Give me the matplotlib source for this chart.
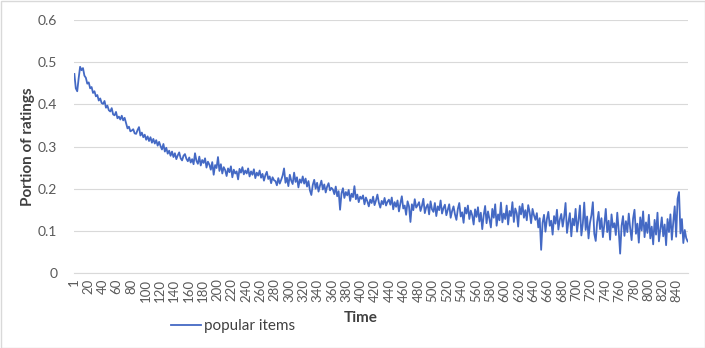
"""Portion of ratings on popular items over time (Excel-style line chart)."""

import matplotlib

matplotlib.use("Agg")
import matplotlib.pyplot as plt
from matplotlib.patches import Rectangle


TIME = list(range(1, 856, 2))

POPULAR_ITEMS = [
    0.472, 0.438, 0.431, 0.462, 0.489, 0.481, 0.486, 0.468, 0.463, 0.449,
    0.452, 0.438, 0.441, 0.427, 0.431, 0.419, 0.422, 0.409, 0.414, 0.403,
    0.401, 0.408, 0.392, 0.397, 0.386, 0.383, 0.391, 0.376, 0.374, 0.382,
    0.367, 0.371, 0.364, 0.373, 0.362, 0.368, 0.355, 0.343, 0.347, 0.336,
    0.338, 0.341, 0.331, 0.330, 0.339, 0.346, 0.326, 0.333, 0.322, 0.328,
    0.316, 0.324, 0.313, 0.322, 0.309, 0.318, 0.307, 0.315, 0.302, 0.311,
    0.301, 0.293, 0.306, 0.288, 0.297, 0.283, 0.290, 0.278, 0.288, 0.275,
    0.284, 0.270, 0.279, 0.286, 0.272, 0.267, 0.278, 0.282, 0.271, 0.265,
    0.274, 0.262, 0.270, 0.258, 0.284, 0.266, 0.259, 0.276, 0.255, 0.268,
    0.261, 0.272, 0.250, 0.264, 0.257, 0.245, 0.263, 0.233, 0.256, 0.249,
    0.275, 0.242, 0.258, 0.236, 0.251, 0.244, 0.230, 0.248, 0.239, 0.253,
    0.227, 0.245, 0.236, 0.241, 0.222, 0.247, 0.238, 0.251, 0.234, 0.243,
    0.236, 0.248, 0.229, 0.241, 0.233, 0.246, 0.225, 0.238, 0.231, 0.243,
    0.226, 0.235, 0.219, 0.232, 0.240, 0.223, 0.229, 0.213, 0.227, 0.220,
    0.218, 0.208, 0.225, 0.212, 0.221, 0.231, 0.248, 0.214, 0.226, 0.206,
    0.233, 0.219, 0.211, 0.238, 0.216, 0.227, 0.203, 0.222, 0.214, 0.229,
    0.212, 0.224, 0.205, 0.218, 0.196, 0.185, 0.209, 0.221, 0.200, 0.214,
    0.193, 0.207, 0.219, 0.198, 0.210, 0.191, 0.205, 0.213, 0.196, 0.202,
    0.198, 0.187, 0.205, 0.182, 0.194, 0.150, 0.189, 0.201, 0.178, 0.192,
    0.184, 0.197, 0.171, 0.188, 0.180, 0.206, 0.175, 0.186, 0.168, 0.181,
    0.176, 0.184, 0.163, 0.179, 0.170, 0.158, 0.174, 0.166, 0.181, 0.161,
    0.172, 0.186, 0.167, 0.155, 0.171, 0.163, 0.178, 0.160, 0.169, 0.174,
    0.162, 0.179, 0.151, 0.168, 0.157, 0.172, 0.146, 0.165, 0.182, 0.153,
    0.160, 0.138, 0.170, 0.158, 0.121, 0.163, 0.149, 0.175, 0.155, 0.161,
    0.168, 0.147, 0.159, 0.176, 0.142, 0.156, 0.163, 0.139, 0.170, 0.151,
    0.145, 0.166, 0.135, 0.158, 0.149, 0.172, 0.141, 0.154, 0.162, 0.137,
    0.150, 0.163, 0.131, 0.147, 0.158, 0.139, 0.126, 0.152, 0.166, 0.134,
    0.144, 0.119, 0.155, 0.141, 0.160, 0.128, 0.148, 0.137, 0.115, 0.151,
    0.133, 0.156, 0.122, 0.143, 0.104, 0.137, 0.159, 0.118, 0.146, 0.128,
    0.108, 0.152, 0.131, 0.163, 0.112, 0.139, 0.125, 0.167, 0.120, 0.141,
    0.128, 0.160, 0.115, 0.147, 0.135, 0.168, 0.121, 0.153, 0.142, 0.110,
    0.158, 0.139, 0.164, 0.131, 0.149, 0.125, 0.161, 0.144, 0.118, 0.152,
    0.137, 0.126, 0.142, 0.108, 0.130, 0.055, 0.119, 0.138, 0.098, 0.128,
    0.145, 0.112, 0.124, 0.091, 0.135, 0.117, 0.150, 0.103, 0.127, 0.140,
    0.110, 0.133, 0.166, 0.095, 0.121, 0.142, 0.087, 0.129, 0.113, 0.152,
    0.098, 0.125, 0.160, 0.089, 0.116, 0.167, 0.102, 0.134, 0.082, 0.119,
    0.137, 0.168, 0.093, 0.076, 0.121, 0.145, 0.104, 0.130, 0.085, 0.115,
    0.152, 0.097, 0.124, 0.079, 0.139, 0.108, 0.118, 0.090, 0.143, 0.101,
    0.046, 0.112, 0.135, 0.088, 0.123, 0.097, 0.141, 0.106, 0.078, 0.129,
    0.150, 0.093, 0.117, 0.072, 0.132, 0.101, 0.146, 0.085, 0.120, 0.095,
    0.138, 0.082, 0.110, 0.068, 0.126, 0.091, 0.143, 0.075, 0.104, 0.132,
    0.087, 0.115, 0.066, 0.128, 0.097, 0.139, 0.079, 0.121, 0.158, 0.086,
    0.176, 0.192, 0.094, 0.128, 0.071, 0.102, 0.083, 0.075,
]

X_TICKS = [1] + list(range(20, 841, 20))
Y_TICKS = [0, 0.1, 0.2, 0.3, 0.4, 0.5, 0.6]

LINE_COLOR = "#4469C4"
TEXT_COLOR = "#595959"
GRID_COLOR = "#D9D9D9"


def main() -> None:
    plt.rcParams["font.family"] = ["Lato", "DejaVu Sans"]

    fig = plt.figure(figsize=(7.05, 3.48), dpi=100)
    ax = fig.add_axes([74 / 705, 1 - 273 / 348, (688 - 74) / 705, (273 - 20) / 348])

    (line,) = ax.plot(TIME, POPULAR_ITEMS, color=LINE_COLOR, linewidth=1.3,
                      label="popular items")

    ax.set_xlim(0.5, 855.5)
    ax.set_ylim(0, 0.6)
    ax.set_xticks(X_TICKS)
    ax.set_xticklabels([str(t) for t in X_TICKS], rotation=90)
    ax.set_yticks(Y_TICKS)
    ax.set_yticklabels([f"{v:g}" for v in Y_TICKS])
    ax.tick_params(axis="both", length=0, labelcolor=TEXT_COLOR)
    ax.tick_params(axis="x", pad=4, labelsize=9.5)
    ax.tick_params(axis="y", pad=12, labelsize=10)

    ax.grid(axis="y", color=GRID_COLOR, linewidth=0.8)
    ax.set_axisbelow(True)
    for side in ("top", "right", "left"):
        ax.spines[side].set_visible(False)
    ax.spines["bottom"].set_color(GRID_COLOR)
    ax.spines["bottom"].set_linewidth(0.8)

    fig.text(361 / 705, 1 - 318 / 348, "Time", ha="center", va="center",
             fontsize=11, fontweight="bold", color="#404040")
    fig.text(28 / 705, 1 - 147 / 348, "Portion of ratings", ha="center", va="center",
             rotation=90, fontsize=11, fontweight="bold", color="#404040")

    fig.legend(handles=[line], loc="center left", frameon=False,
               bbox_to_anchor=(157 / 705, 1 - 326 / 348), fontsize=11,
               handlelength=2.0, handletextpad=0.2, labelcolor="#404040")

    fig.add_artist(Rectangle((0.5 / 705, 0.5 / 348), 1 - 1 / 705, 1 - 1 / 348,
                             transform=fig.transFigure, fill=False,
                             edgecolor="#D9D9D9", linewidth=1.0))

    fig.savefig("out.png", dpi=100, facecolor="white")
    plt.close(fig)


if __name__ == "__main__":
    main()
